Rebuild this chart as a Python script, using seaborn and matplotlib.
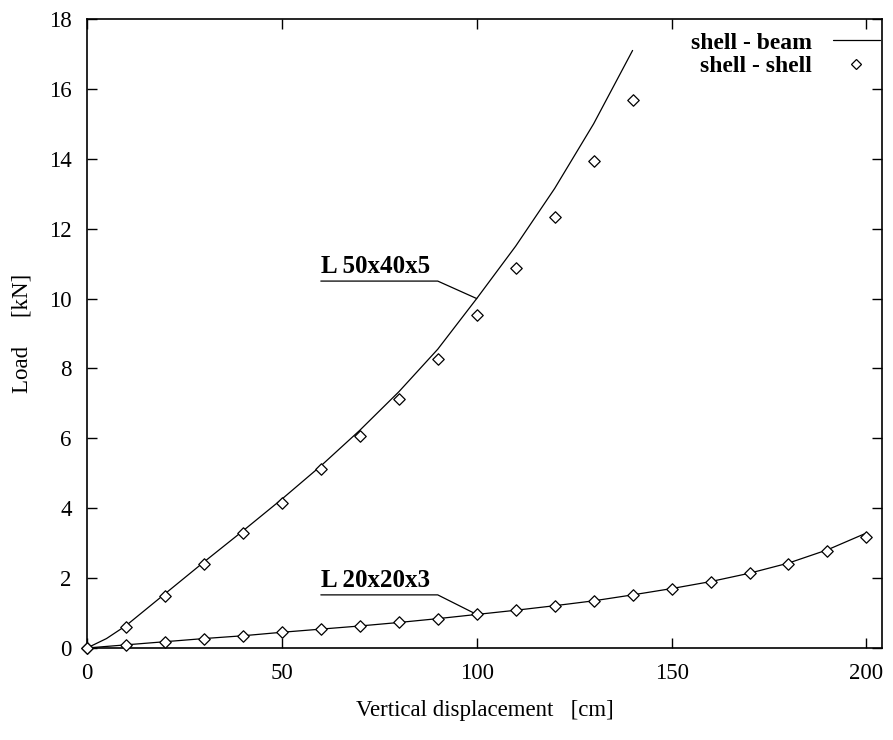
import matplotlib
matplotlib.use("Agg")
import matplotlib.pyplot as plt
from matplotlib.lines import Line2D
import seaborn as sns
import pandas as pd

# ---- data ----
# shell - beam (continuous lines)
beam_big_x = [0, 5, 10, 20, 30, 40, 50, 60, 70, 80, 90, 100, 110, 120, 130, 140]
beam_big_y = [0, 0.27, 0.64, 1.55, 2.46, 3.35, 4.26, 5.21, 6.23, 7.33, 8.55, 10.0, 11.5, 13.15, 15.0, 17.1]
beam_small_x = [0, 10, 20, 30, 40, 50, 60, 70, 80, 90, 100, 110, 120, 130, 140, 150, 160, 170, 180, 190, 200]
beam_small_y = [0, 0.09, 0.18, 0.27, 0.35, 0.45, 0.54, 0.63, 0.73, 0.84, 0.96, 1.08, 1.21, 1.35, 1.52, 1.70, 1.90, 2.14, 2.43, 2.81, 3.29]

# shell - shell (diamond markers)
shell_big_x = [0, 10, 20, 30, 40, 50, 60, 70, 80, 90, 100, 110, 120, 130, 140]
shell_big_y = [0, 0.60, 1.50, 2.41, 3.28, 4.16, 5.11, 6.08, 7.13, 8.28, 9.52, 10.87, 12.34, 13.95, 15.69]
shell_small_x = [0, 10, 20, 30, 40, 50, 60, 70, 80, 90, 100, 110, 120, 130, 140, 150, 160, 170, 180, 190, 200]
shell_small_y = [0, 0.08, 0.18, 0.27, 0.34, 0.45, 0.54, 0.62, 0.73, 0.84, 0.96, 1.08, 1.21, 1.34, 1.52, 1.70, 1.90, 2.14, 2.41, 2.78, 3.18]

labels = ["L 50x40x5", "L 20x20x3"]
label_y = [10.5, 1.52]
label_target = [(100, 10.0), (100, 0.96)]

x_ticks = [0, 50, 100, 150, 200]
y_ticks = [0, 2, 4, 6, 8, 10, 12, 14, 16, 18]

beam_df = pd.DataFrame({
    "x": beam_big_x + beam_small_x,
    "y": beam_big_y + beam_small_y,
    "profile": [labels[0]] * len(beam_big_x) + [labels[1]] * len(beam_small_x),
})
shell_df = pd.DataFrame({
    "x": shell_big_x + shell_small_x,
    "y": shell_big_y + shell_small_y,
    "profile": [labels[0]] * len(shell_big_x) + [labels[1]] * len(shell_small_x),
})

sns.set_theme(style="white")
plt.rcParams["font.family"] = ["Liberation Serif", "DejaVu Serif"]
for key in ["text.color", "axes.labelcolor", "xtick.color", "ytick.color", "axes.edgecolor"]:
    plt.rcParams[key] = "black"

fig = plt.figure(figsize=(8.93, 7.40), dpi=100)
ax = fig.add_axes([87 / 893, 1 - 648 / 740, (882 - 87) / 893, (648 - 19) / 740])

sns.lineplot(data=beam_df, x="x", y="y", units="profile", estimator=None,
             color="black", linewidth=0.9, sort=False, ax=ax, legend=False)
sns.scatterplot(data=shell_df, x="x", y="y", marker="D", s=34,
                facecolor="white", edgecolor="black", linewidth=0.9,
                ax=ax, legend=False, zorder=3, clip_on=False)

# annotations: underlined label with leader line
for lab, ly, (tx, ty) in zip(labels, label_y, label_target):
    ax.plot([60, 90, tx], [ly, ly, ty], color="black", linewidth=0.9)
    ax.text(60, ly + 0.08, lab, fontsize=18, fontweight="bold",
            ha="left", va="bottom")

ax.set_xlim(0, 204)
ax.set_ylim(0, 18)
ax.set_xticks(x_ticks)
ax.set_yticks(y_ticks)
ax.tick_params(direction="in", length=7, width=1, labelsize=16.5,
               top=True, right=True, bottom=True, left=True)
ax.tick_params(axis="x", pad=11)
ax.tick_params(axis="y", pad=11)
ax.set_xlabel("Vertical displacement   [cm]", fontsize=16.5, labelpad=11)
ax.set_ylabel("Load     [kN]", fontsize=16.5, labelpad=12)
for sp in ax.spines.values():
    sp.set_color("black")
    sp.set_linewidth(1.2)

handles = [
    Line2D([], [], color="black", linewidth=0.9),
    Line2D([], [], color="none", marker="D", markersize=5,
           markerfacecolor="white", markeredgecolor="black", markeredgewidth=0.9),
]
ax.legend(handles, ["shell - beam", "shell - shell"], loc="upper right",
          bbox_to_anchor=((880 - 87) / 795, (648 - 32) / 629), frameon=False,
          markerfirst=False, prop={"weight": "bold", "size": 17},
          handlelength=2.0, labelspacing=0.1, handletextpad=0.9,
          borderaxespad=0.0, borderpad=0.0)

fig.savefig("out.png", dpi=100)
